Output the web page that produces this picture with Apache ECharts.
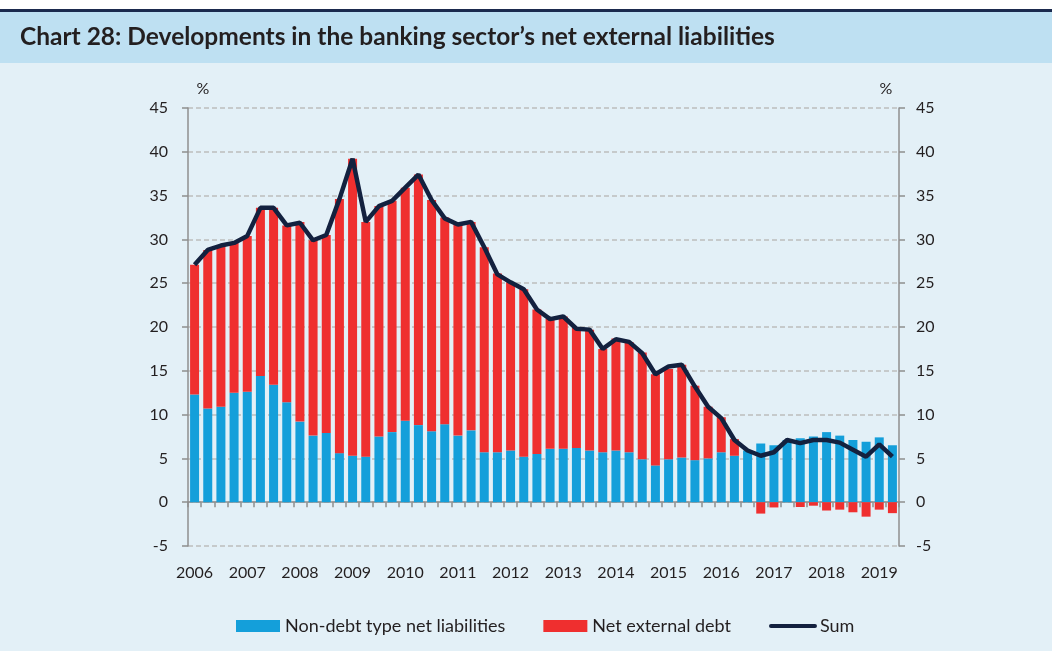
<!DOCTYPE html>
<html>
<head>
<meta charset="utf-8">
<title>Chart 28</title>
<script src="https://cdn.jsdelivr.net/npm/echarts@6/dist/echarts.min.js"></script>
<style>
  html, body { margin: 0; padding: 0; background: #fff; }
  #main { width: 1052px; height: 651px; }
</style>
</head>
<body>
<div id="main"></div>
<script>
// quarters 2006Q1 - 2019Q2
var quarters = [];
var years = ['2006','2007','2008','2009','2010','2011','2012','2013','2014','2015','2016','2017','2018','2019'];
years.forEach(function(y) {
    ['Q1','Q2','Q3','Q4'].forEach(function(q) {
        quarters.push(y + ' ' + q);
    });
});
quarters = quarters.slice(0, 54);

// non-debt type net liabilities (% )
var nonDebt = [
    12.3, 10.7, 10.9, 12.5,
    12.6, 14.4, 13.4, 11.4,
    9.2, 7.6, 7.9, 5.6,
    5.3, 5.2, 7.5, 8.0,
    9.3, 8.8, 8.1, 8.9,
    7.6, 8.2, 5.7, 5.7,
    5.9, 5.2, 5.5, 6.1,
    6.1, 6.2, 5.9, 5.7,
    5.9, 5.7, 4.9, 4.2,
    4.9, 5.1, 4.8, 5.0,
    5.7, 5.3, 5.9, 6.7,
    6.5, 7.1, 7.3, 7.5,
    8.0, 7.6, 7.1, 6.9,
    7.4, 6.5
];

// net external debt
var extDebt = [
    14.8, 18.1, 18.4, 17.1,
    17.8, 19.2, 20.2, 20.2,
    22.8, 22.3, 22.6, 29.0,
    33.9, 26.8, 26.3, 26.4,
    26.6, 28.6, 26.4, 23.6,
    24.1, 23.8, 23.4, 20.4,
    19.2, 19.1, 16.5, 14.8,
    15.1, 13.7, 13.8, 11.8,
    12.8, 12.6, 12.2, 10.4,
    10.3, 10.6, 8.5, 5.9,
    4.0, 1.9, 0.0, -1.3,
    -0.6, 0.0, -0.55, -0.4,
    -0.95, -0.85, -1.15, -1.65,
    -0.85, -1.25
];

// sum
var total = [
    27.1, 28.8, 29.3, 29.6,
    30.4, 33.6, 33.6, 31.6,
    31.9, 29.9, 30.5, 34.6,
    39.2, 32.0, 33.8, 34.4,
    35.9, 37.4, 34.5, 32.4,
    31.7, 32.0, 29.1, 26.0,
    25.1, 24.3, 22.0, 20.9,
    21.2, 19.8, 19.7, 17.5,
    18.6, 18.3, 17.0, 14.6,
    15.5, 15.7, 13.2, 10.9,
    9.6, 7.1, 5.9, 5.3,
    5.7, 7.1, 6.75, 7.1,
    7.1, 6.8, 6.0, 5.2,
    6.6, 5.2
];

var myChart = echarts.init(document.getElementById('main'));

var font = 'Lato, "Open Sans", sans-serif';
var axisGrey = '#8f8f8f';

option = {
    backgroundColor: '#e3f0f7',
    animation: false,
    textStyle: { fontFamily: font, color: '#231f20' },
    graphic: [
        { type: 'rect', left: 0, top: 0, shape: { width: 1052, height: 9 }, style: { fill: '#ffffff' } },
        { type: 'rect', left: 0, top: 9, shape: { width: 1052, height: 3 }, style: { fill: '#1b2a4e' } },
        { type: 'rect', left: 0, top: 12, shape: { width: 1052, height: 51 }, style: { fill: '#bee0f2' } },
        {
            type: 'text', left: 20, top: 25,
            style: {
                text: 'Chart 28: Developments in the banking sector\u2019s net external liabilities',
                font: 'bold 24.5px ' + font,
                fill: '#231f20'
            }
        }
    ],
    grid: { left: 188, right: 153, top: 108, bottom: 105 },
    legend: {
        left: 231,
        top: 612,
        itemWidth: 44,
        itemHeight: 12,
        itemGap: 38,
        textStyle: { fontSize: 18, color: '#231f20', fontFamily: font },
        data: [
            { name: 'Non-debt type net liabilities', icon: 'rect' },
            { name: 'Net external debt', icon: 'rect' },
            { name: 'Sum', itemStyle: { opacity: 0 }, lineStyle: { width: 4, cap: 'round' } }
        ]
    },
    xAxis: [{
        type: 'category',
        data: quarters,
        axisLine: { show: false, onZero: false },
        axisTick: { show: false },
        axisLabel: {
            interval: 3,
            margin: 19,
            fontSize: 16,
            color: '#231f20',
            formatter: function(v) { return v.slice(0, 4); }
        }
    }, {
        type: 'category',
        data: quarters,
        position: 'bottom',
        axisLine: { show: true, onZero: true, lineStyle: { color: axisGrey, width: 1.5 } },
        axisTick: { show: true, interval: 0, length: 5, lineStyle: { color: axisGrey, width: 1.5 } },
        axisLabel: { show: false }
    }],
    yAxis: [{
        type: 'value',
        min: -5,
        max: 45,
        interval: 5,
        position: 'left',
        name: '%',
        nameLocation: 'end',
        nameGap: 11,
        nameTextStyle: { fontSize: 16, color: '#231f20', padding: [0, 0, 0, 30] },
        axisLine: { show: true, lineStyle: { color: axisGrey, width: 1.5 } },
        axisTick: { show: true, length: 6, lineStyle: { color: axisGrey, width: 1.5 } },
        axisLabel: { fontSize: 16, margin: 20, color: '#231f20' },
        splitLine: { show: true, lineStyle: { color: '#bdbdbd', type: [5, 3], width: 1.5 } }
    }, {
        type: 'value',
        min: -5,
        max: 45,
        interval: 5,
        position: 'right',
        name: '%',
        nameLocation: 'end',
        nameGap: 11,
        nameTextStyle: { fontSize: 16, color: '#231f20', padding: [0, 26, 0, 0] },
        axisLine: { show: true, lineStyle: { color: axisGrey, width: 1.5 } },
        axisTick: { show: true, length: 6, lineStyle: { color: axisGrey, width: 1.5 } },
        axisLabel: { fontSize: 16, margin: 17, color: '#231f20' },
        splitLine: { show: false }
    }],
    series: [{
        name: 'Non-debt type net liabilities',
        type: 'bar',
        stack: 'a',
        barWidth: 9,
        itemStyle: { color: '#149fda' },
        data: nonDebt
    }, {
        name: 'Net external debt',
        type: 'bar',
        stack: 'a',
        barWidth: 9,
        itemStyle: { color: '#ef2f2f' },
        data: extDebt
    }, {
        name: 'Sum',
        type: 'line',
        symbol: 'none',
        z: 5,
        lineStyle: { color: '#13213f', width: 4.5 },
        itemStyle: { color: '#13213f' },
        data: total
    }]
};

myChart.setOption(option);
</script>
</body>
</html>
